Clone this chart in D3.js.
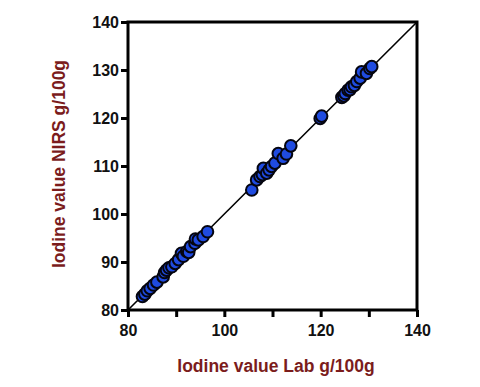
<!DOCTYPE html>
<html lang="en">
  <head>
    <meta charset="utf-8">
    <title>Iodine value NIRS vs Lab</title>
    <script src="https://d3js.org/d3.v7.min.js"></script>
    <style>
      body { margin: 0; background: #fff; }
    </style>
  </head>
  <body>
    <script type="text/javascript">
    // Lab reference values (x) and NIRS predictions (y)
    var labValues = [83.0, 83.5, 84.0, 84.6, 85.3, 86.0, 87.3, 87.6, 88.0, 88.5, 89.1, 89.8, 90.5,
                     91.1, 91.5, 92.2, 92.6, 93.0, 93.9, 94.0, 94.6, 95.6, 96.5,
                     105.7, 106.7, 107.4, 107.9, 108.1, 108.8, 109.3, 109.8, 110.5, 111.2, 112.2, 112.9, 113.8,
                     119.9, 120.2,
                     124.4, 124.8, 125.1, 125.7, 126.1, 126.4, 127.0, 127.5, 128.2, 128.5, 129.5, 130.2, 130.6];
    var nirsValues = [82.8, 83.3, 84.0, 84.5, 85.2, 85.8, 86.9, 87.8, 88.3, 88.8, 89.0, 89.7, 90.5,
                      91.8, 91.2, 92.2, 92.0, 93.2, 93.9, 94.8, 94.6, 95.3, 96.3,
                      105.0, 107.1, 107.8, 108.2, 109.5, 108.5, 109.2, 109.9, 110.6, 112.6, 111.6, 112.5, 114.2,
                      119.9, 120.4,
                      124.3, 124.6, 125.1, 125.8, 125.9, 126.5, 126.8, 127.6, 128.3, 129.6, 129.3, 130.3, 130.7];
    var xTicks = [80, 90, 100, 110, 120, 130, 140];
    var xTickLabels = [80, 100, 120, 140];
    var yTicks = [80, 90, 100, 110, 120, 130, 140];
    var axisDomain = [80, 140];

    var w = 480;
    var h = 387;
    var plotLeft = 128, plotRight = 417, plotTop = 22, plotBottom = 310;

    var xScale = d3.scaleLinear().domain(axisDomain).range([plotLeft, plotRight]);
    var yScale = d3.scaleLinear().domain(axisDomain).range([plotBottom, plotTop]);

    var svg = d3.select("body")
                .append("svg")
                .attr("width", w)
                .attr("height", h);

    // identity line
    svg.append("line")
       .attr("x1", xScale(80)).attr("y1", yScale(80))
       .attr("x2", xScale(140)).attr("y2", yScale(140))
       .attr("stroke", "#000")
       .attr("stroke-width", 1.6);

    // points
    var pts = d3.range(labValues.length);
    svg.selectAll("circle")
       .data(pts)
       .enter()
       .append("circle")
       .attr("cx", function(i) { return xScale(labValues[i]); })
       .attr("cy", function(i) { return yScale(nirsValues[i]); })
       .attr("r", 5.8)
       .attr("fill", "#1f4be0")
       .attr("stroke", "#05050f")
       .attr("stroke-width", 2);

    // frame
    svg.append("rect")
       .attr("x", plotLeft).attr("y", plotTop)
       .attr("width", plotRight - plotLeft).attr("height", plotBottom - plotTop)
       .attr("fill", "none")
       .attr("stroke", "#000")
       .attr("stroke-width", 3);

    var xAxis = d3.axisBottom(xScale)
                  .tickValues(xTicks)
                  .tickSize(7)
                  .tickFormat(function(d) { return xTickLabels.indexOf(d) >= 0 ? d : ""; });
    var yAxis = d3.axisLeft(yScale)
                  .tickValues(yTicks)
                  .tickSize(7);

    var gx = svg.append("g")
       .attr("transform", "translate(0," + plotBottom + ")")
       .call(xAxis);
    var gy = svg.append("g")
       .attr("transform", "translate(" + plotLeft + ",0)")
       .call(yAxis);

    [gx, gy].forEach(function(g) {
      g.select(".domain").remove();
      g.selectAll(".tick line").attr("stroke-width", 3);
      g.selectAll(".tick text")
       .attr("font-family", "Liberation Sans, Arial, sans-serif")
       .attr("font-weight", "bold")
       .attr("font-size", "16px")
       .attr("fill", "#111");
    });
    gx.selectAll(".tick text").attr("dy", "1.0em");
    gy.selectAll(".tick text").attr("x", -9).attr("dy", "0.36em");

    svg.append("text")
       .attr("x", 276)
       .attr("y", 372)
       .attr("text-anchor", "middle")
       .attr("font-family", "Liberation Sans, Arial, sans-serif")
       .attr("font-weight", "bold")
       .attr("font-size", "17.5px")
       .attr("fill", "#7b1c1c")
       .text("Iodine value Lab g/100g");

    svg.append("text")
       .attr("transform", "translate(65,164) rotate(-90)")
       .attr("text-anchor", "middle")
       .attr("font-family", "Liberation Sans, Arial, sans-serif")
       .attr("font-weight", "bold")
       .attr("font-size", "17.5px")
       .attr("fill", "#7b1c1c")
       .text("Iodine value NIRS g/100g");
    </script>
  </body>
</html>
